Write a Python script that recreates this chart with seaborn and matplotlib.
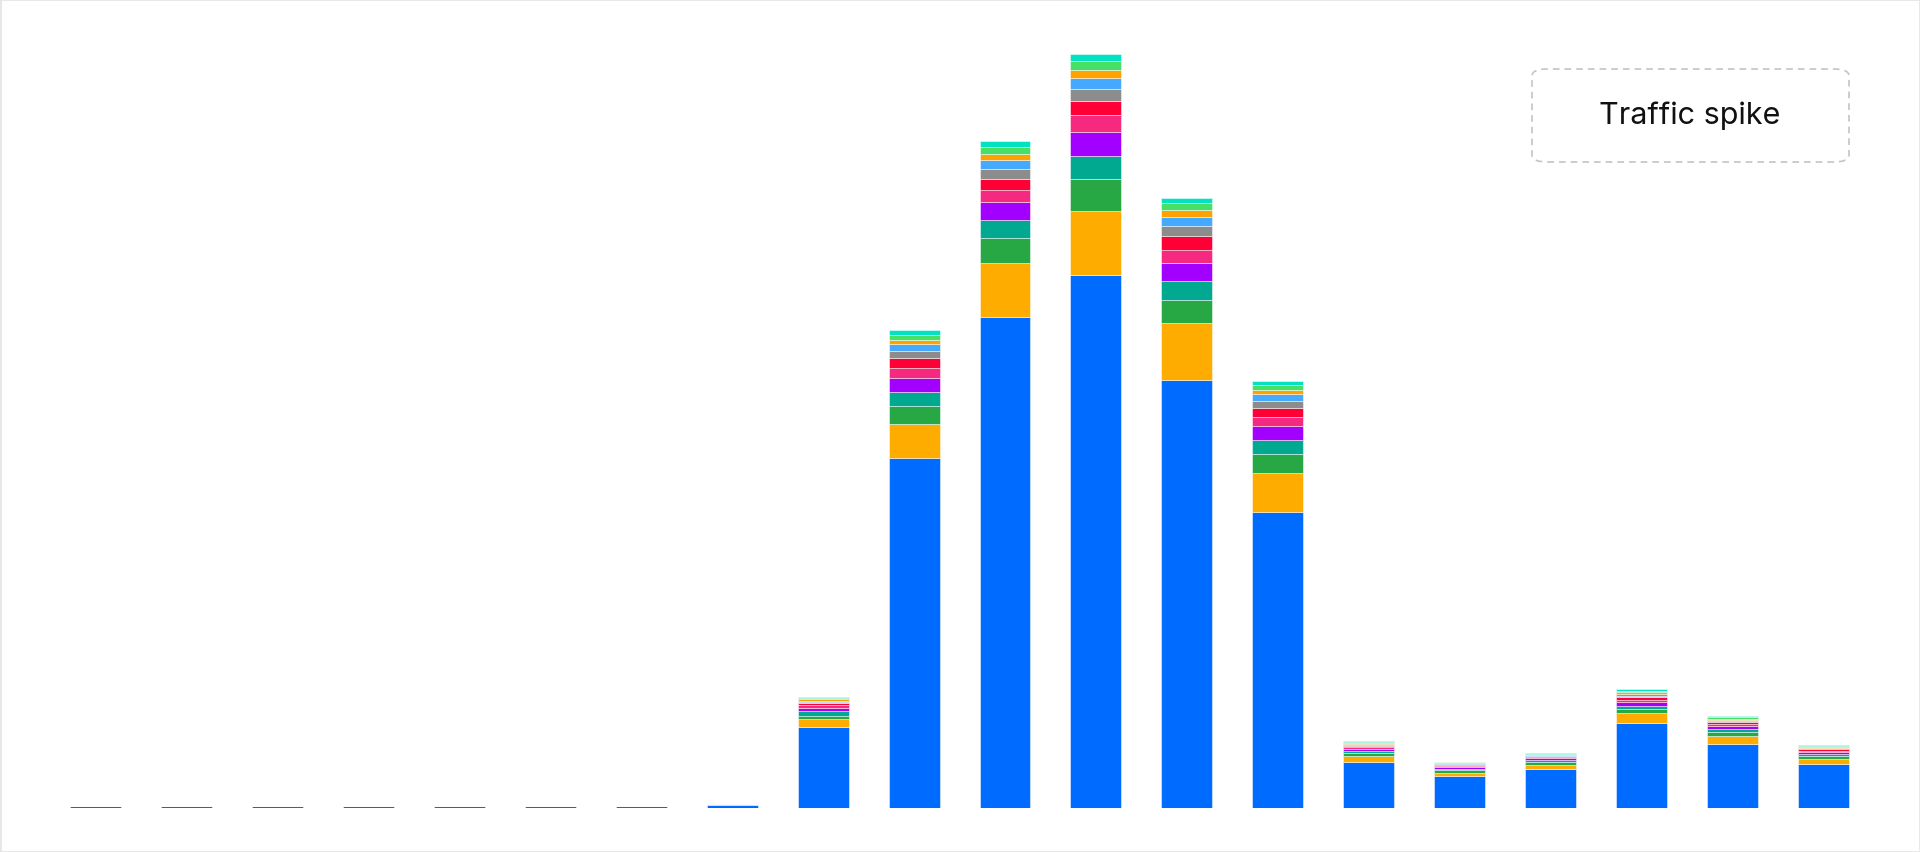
import pandas as pd
import matplotlib.pyplot as plt
from matplotlib.patches import FancyBboxPatch, Rectangle
import seaborn as sns

# hourly buckets (0..19), stacked by source
hours = list(range(20))
series = ["Blue", "Orange", "Green", "Teal", "Purple", "Pink",
          "Red", "Gray", "Light blue", "Amber", "Light green", "Cyan"]

blue = [2.2, 2.2, 2.2, 2.2, 2.2, 2.2, 2.2, 3.0, 81.5, 350.8, 491.0, 533.5, 428.7, 296.8, 46.5, 32.0, 39.0, 85.5, 64.0, 44.0]
orange = [0, 0, 0, 0, 0, 0, 0, 0.3, 8.0, 34.0, 53.9, 63.7, 56.3, 39.0, 6.0, 3.7, 4.7, 9.7, 8.4, 5.7]
green = [0, 0, 0, 0, 0, 0, 0, 0.2, 3.3, 17.4, 25.7, 32.0, 22.8, 18.4, 3.0, 2.3, 3.0, 4.3, 4.3, 3.0]
teal = [0, 0, 0, 0, 0, 0, 0, 0.1, 4.4, 14.3, 17.8, 23.0, 19.7, 14.0, 2.0, 1.7, 1.7, 3.3, 3.0, 2.0]
purple = [0, 0, 0, 0, 0, 0, 0, 0.1, 3.3, 14.0, 17.7, 24.0, 18.0, 14.3, 2.0, 1.7, 1.6, 3.4, 2.3, 1.7]
pink = [0, 0, 0, 0, 0, 0, 0, 0.1, 3.0, 10.3, 12.3, 16.6, 13.0, 9.3, 1.6, 1.3, 1.0, 2.5, 2.0, 1.4]
red = [0, 0, 0, 0, 0, 0, 0, 0.1, 2.0, 9.7, 11.0, 14.0, 13.3, 8.7, 1.7, 1.0, 1.0, 2.3, 2.0, 1.3]
gray = [0, 0, 0, 0, 0, 0, 0, 0.1, 1.2, 7.3, 10.0, 12.0, 10.0, 7.3, 1.0, 0.7, 0.7, 1.8, 1.4, 1.0]
light_blue = [0, 0, 0, 0, 0, 0, 0, 0.1, 1.0, 6.4, 9.0, 11.4, 9.4, 6.4, 1.0, 0.6, 0.6, 1.8, 1.3, 0.8]
amber = [0, 0, 0, 0, 0, 0, 0, 0.1, 1.3, 4.6, 6.0, 8.3, 6.6, 4.6, 1.0, 0.5, 0.6, 1.5, 1.2, 0.7]
light_green = [0, 0, 0, 0, 0, 0, 0, 0.1, 1.3, 4.7, 7.3, 8.3, 7.4, 5.0, 1.0, 0.6, 0.6, 1.4, 1.2, 0.8]
cyan = [0, 0, 0, 0, 0, 0, 0, 0.1, 1.2, 4.3, 5.7, 7.0, 5.3, 4.0, 0.7, 0.5, 0.5, 1.5, 1.0, 0.6]

colors = ["#006cff", "#ffac00", "#28a745", "#00a98f", "#a200ff", "#f5297f",
          "#ff0036", "#8c8c8c", "#45aaff", "#ffa200", "#47df66", "#00e2c2"]

annotation = "Traffic spike"

values = [blue, orange, green, teal, purple, pink, red, gray,
          light_blue, amber, light_green, cyan]
frames = []
for name, vals in zip(series, values):
    frames.append(pd.DataFrame({"hour": hours, "source": name, "count": vals}))
df = pd.concat(frames, ignore_index=True)
# empty segments are not drawn at all
df = df[df["count"] > 0]

sns.set_theme(style="white")
plt.rcParams["font.family"] = ["Inter", "DejaVu Sans"]

fig = plt.figure(figsize=(19.2, 8.53), dpi=100)
fig.patch.set_facecolor("white")
ax = fig.add_axes([0.026, 0.051, 0.9475, 0.938])

totals = [sum(v[i] for v in values) for i in range(len(hours))]

sns.histplot(data=df, x="hour", weights="count", hue="source",
             hue_order=series[::-1], palette=dict(zip(series, colors)),
             multiple="stack", discrete=True, shrink=0.56, alpha=1,
             edgecolor=(1, 1, 1, 0.75), linewidth=0.45, legend=False, ax=ax)

ax.set_xlim(-0.5, len(hours) - 0.5)
ax.set_ylim(0, max(totals) * 1.061)
ax.set_axis_off()

# annotation box, top right
box = FancyBboxPatch((1532 / 1920, 1 - 163 / 853), 317 / 1920, 93 / 853,
                     boxstyle="round,pad=0,rounding_size=0.008",
                     transform=fig.transFigure, facecolor="none",
                     edgecolor="#c4c4c4", linestyle=(0, (4, 3)), linewidth=1.2)
fig.patches.append(box)
fig.text(1690 / 1920, 1 - 116 / 853, annotation, ha="center", va="center",
         fontsize=22, color="#111111")

# thin outer frame
fig.patches.append(Rectangle((0, 0), 1, 1, transform=fig.transFigure,
                             facecolor="none", edgecolor="#e6e6e6", linewidth=2))

fig.savefig("out.png", dpi=100)
